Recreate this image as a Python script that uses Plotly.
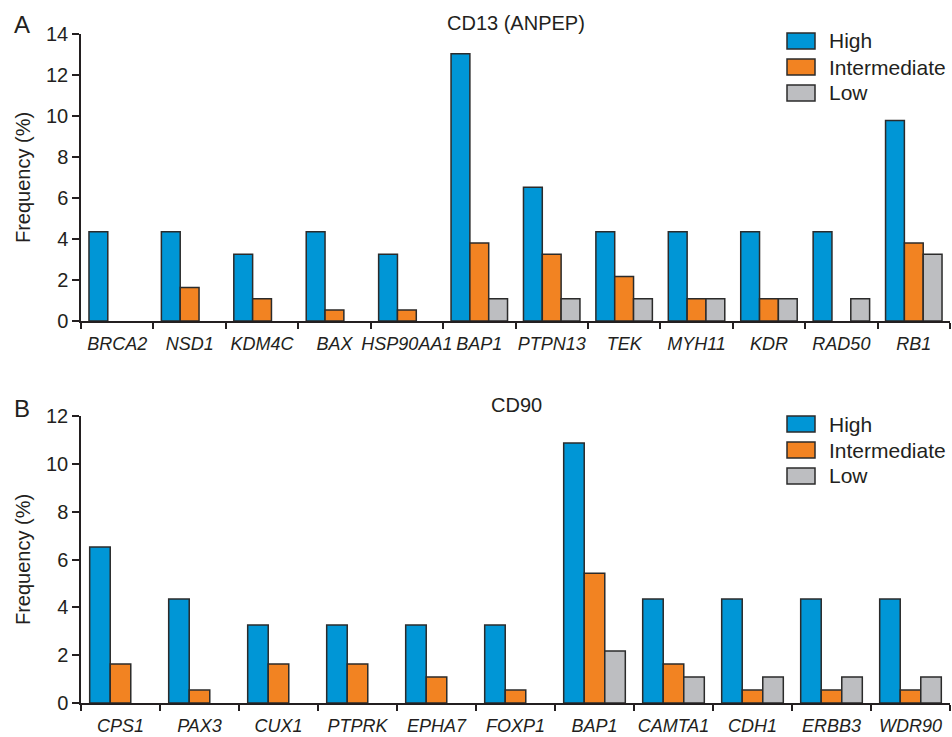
import plotly.graph_objects as go

# CD13 (ANPEP) panel
cd13_genes = ["BRCA2", "NSD1", "KDM4C", "BAX", "HSP90AA1", "BAP1",
              "PTPN13", "TEK", "MYH11", "KDR", "RAD50", "RB1"]
cd13_high = [4.35, 4.35, 3.26, 4.35, 3.26, 13.04, 6.52, 4.35, 4.35, 4.35, 4.35, 9.78]
cd13_inter = [0, 1.63, 1.09, 0.54, 0.54, 3.80, 3.26, 2.17, 1.09, 1.09, 0, 3.80]
cd13_low = [0, 0, 0, 0, 0, 1.09, 1.09, 1.09, 1.09, 1.09, 1.09, 3.26]

# CD90 panel
cd90_genes = ["CPS1", "PAX3", "CUX1", "PTPRK", "EPHA7", "FOXP1",
              "BAP1", "CAMTA1", "CDH1", "ERBB3", "WDR90"]
cd90_high = [6.52, 4.35, 3.26, 3.26, 3.26, 3.26, 10.87, 4.35, 4.35, 4.35, 4.35]
cd90_inter = [1.63, 0.54, 1.63, 1.63, 1.09, 0.54, 5.43, 1.63, 0.54, 0.54, 0.54]
cd90_low = [0, 0, 0, 0, 0, 0, 2.17, 1.09, 1.09, 1.09, 1.09]

levels = ["High", "Intermediate", "Low"]
colors = ["#0096D6", "#F28322", "#BDBEC1"]
edge = "#2b2b2b"
ink = "#231F20"
FONT = "Liberation Sans, Arial, sans-serif"

W, H = 952, 737


def px_x(p):
    return p / W


def px_y(p):
    return 1 - p / H


fig = go.Figure()

panels = [
    dict(genes=cd13_genes, series=[cd13_high, cd13_inter, cd13_low],
         xa="x", ya="y", top=34, bottom=321, ymax=14),
    dict(genes=cd90_genes, series=[cd90_high, cd90_inter, cd90_low],
         xa="x2", ya="y2", top=416, bottom=703, ymax=12),
]

for p in panels:
    for name, vals, col in zip(levels, p["series"], colors):
        # zero frequencies leave an empty slot rather than an outlined sliver
        shown = [v if v > 0 else None for v in vals]
        fig.add_trace(go.Bar(
            x=p["genes"], y=shown, name=name, xaxis=p["xa"], yaxis=p["ya"],
            marker=dict(color=col, line=dict(color=edge, width=1.5)),
            showlegend=False,
        ))

x_dom = [px_x(81), px_x(950)]

axis_common = dict(
    showline=True, linecolor=ink, linewidth=1.5, ticks="outside",
    tickcolor=ink, tickwidth=1.5, ticklen=6, showgrid=False, zeroline=False,
    automargin=False,
)

layout = dict(
    width=W, height=H, margin=dict(l=0, r=0, t=0, b=0),
    paper_bgcolor="white", plot_bgcolor="white",
    barmode="group", bargap=0.22, bargroupgap=0,
    font=dict(family=FONT, color=ink, size=19),
)

for i, p in enumerate(panels):
    sfx = "" if i == 0 else "2"
    layout["xaxis" + sfx] = dict(
        axis_common, domain=x_dom, anchor="y" + sfx, type="category",
        range=[-0.5, len(p["genes"]) - 0.5], tickson="boundaries",
        tickangle=0,
        tickfont=dict(size=18, style="italic", color=ink),
        ticklabelstandoff=6,
    )
    layout["yaxis" + sfx] = dict(
        axis_common, domain=[px_y(p["bottom"]), px_y(p["top"])],
        anchor="x" + sfx, range=[0, p["ymax"]], dtick=2, ticklen=7,
        tickfont=dict(size=20, color=ink),
        title=dict(text="Frequency (%)", font=dict(size=20, color=ink), standoff=10),
    )

fig.update_layout(**layout)

shapes = []
annotations = []

# Panel letters and titles
annotations += [
    dict(text="A", x=px_x(12), y=px_y(25), xref="paper", yref="paper",
         xanchor="left", yanchor="middle", showarrow=False, font=dict(size=24)),
    dict(text="CD13 (ANPEP)", x=px_x(516), y=px_y(23), xref="paper", yref="paper",
         xanchor="center", yanchor="middle", showarrow=False, font=dict(size=20)),
    dict(text="B", x=px_x(12), y=px_y(408), xref="paper", yref="paper",
         xanchor="left", yanchor="middle", showarrow=False, font=dict(size=24)),
    dict(text="CD90", x=px_x(516), y=px_y(405), xref="paper", yref="paper",
         xanchor="center", yanchor="middle", showarrow=False, font=dict(size=20)),
]

# Hand-drawn legends with wide swatches
for first_row in (41, 424):
    for k, (name, col) in enumerate(zip(levels, colors)):
        cy = first_row + k * 26
        shapes.append(dict(
            type="rect", xref="paper", yref="paper",
            x0=px_x(787), x1=px_x(815), y0=px_y(cy + 8), y1=px_y(cy - 8),
            fillcolor=col, line=dict(color=edge, width=1.5),
        ))
        annotations.append(dict(
            text=name, x=px_x(827), y=px_y(cy), xref="paper", yref="paper",
            xanchor="left", yanchor="middle", showarrow=False,
            font=dict(size=21),
        ))

fig.update_layout(shapes=shapes, annotations=annotations)

fig.write_html("out.html")
